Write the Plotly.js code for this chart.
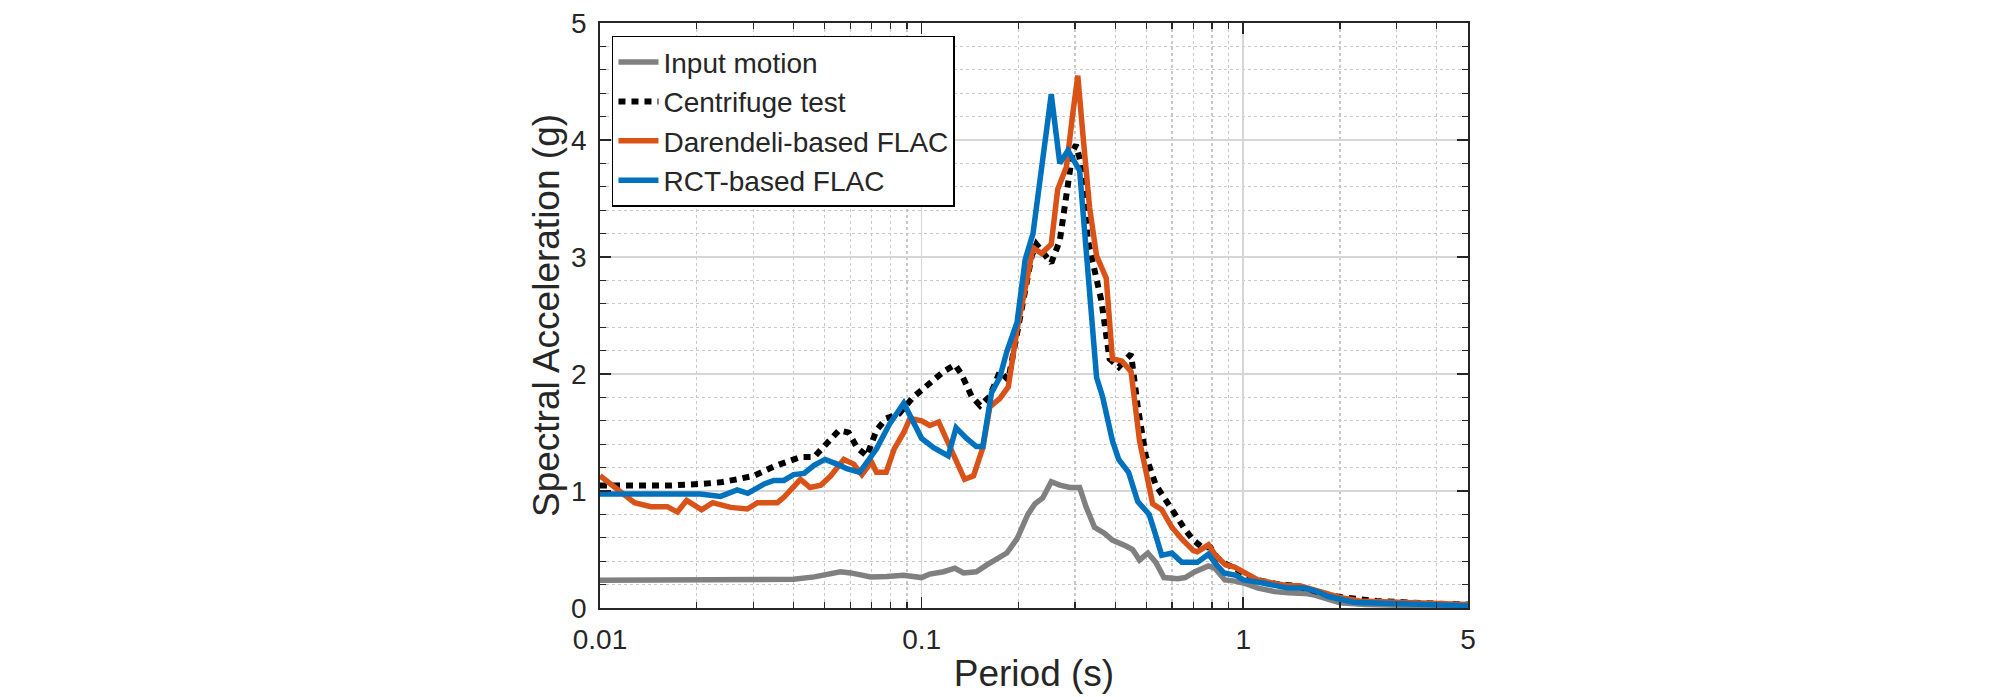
<!DOCTYPE html>
<html>
<head>
<meta charset="utf-8">
<script src="https://cdn.plot.ly/plotly-3.0.1.min.js"></script>
<style>html,body{margin:0;padding:0;background:#fff;}#chart{width:2008px;height:697px;}</style>
</head>
<body>
<div id="chart"></div>
<script>
// ---- Data ----
const periodInput = [0.01,0.015,0.02,0.025,0.03,0.035,0.04,0.0464,0.0515,0.0559,0.0602,0.065,0.0695,0.078,0.0878,0.1,0.106,0.117,0.127,0.135,0.148,0.16,0.171,0.184,0.198,0.214,0.225,0.238,0.253,0.269,0.289,0.31,0.325,0.345,0.37,0.392,0.432,0.453,0.476,0.505,0.535,0.567,0.626,0.66,0.708,0.779,0.817,0.877,0.942,1.012,1.113,1.254,1.379,1.553,1.668,1.835,2.0,2.4,3.4,5.0];
const saInput     = [0.237,0.237,0.238,0.238,0.239,0.240,0.245,0.266,0.29,0.31,0.30,0.285,0.266,0.27,0.28,0.26,0.29,0.31,0.34,0.30,0.31,0.37,0.42,0.47,0.59,0.80,0.89,0.94,1.08,1.05,1.03,1.03,0.86,0.69,0.64,0.58,0.53,0.50,0.41,0.47,0.39,0.26,0.25,0.26,0.31,0.36,0.34,0.24,0.23,0.21,0.17,0.14,0.13,0.125,0.11,0.07,0.045,0.03,0.02,0.01];

const periodCentrifuge = [0.01,0.0128,0.0162,0.0205,0.0237,0.0267,0.0301,0.0347,0.039,0.042,0.0463,0.0509,0.0554,0.0593,0.063,0.0676,0.0724,0.0776,0.0851,0.094,0.106,0.117,0.127,0.133,0.143,0.152,0.163,0.175,0.186,0.195,0.21,0.22,0.2275,0.238,0.253,0.269,0.282,0.295,0.302,0.313,0.329,0.345,0.362,0.384,0.41,0.448,0.47,0.498,0.535,0.575,0.626,0.66,0.70,0.745,0.79,0.83,0.88,0.94,1.0,1.1,1.3,1.45,1.6,1.85,2.05,2.6,3.7,5.0];
const saCentrifuge     = [1.046,1.04,1.046,1.06,1.074,1.10,1.13,1.21,1.26,1.29,1.29,1.42,1.52,1.50,1.37,1.30,1.52,1.62,1.66,1.80,1.92,2.02,2.08,2.0,1.81,1.73,1.81,2.02,1.95,2.25,2.66,3.01,3.11,3.04,2.95,3.14,3.49,3.90,3.96,3.80,3.14,2.89,2.63,2.13,2.06,2.17,1.72,1.30,1.05,0.92,0.76,0.67,0.58,0.52,0.52,0.43,0.38,0.34,0.30,0.24,0.20,0.19,0.16,0.11,0.09,0.06,0.04,0.03];

const periodDarendeli = [0.01,0.0111,0.0128,0.0144,0.0162,0.0174,0.0186,0.0207,0.0224,0.0255,0.0287,0.0309,0.0356,0.0373,0.042,0.045,0.0486,0.0522,0.0573,0.0615,0.0652,0.0698,0.0724,0.0776,0.0822,0.088,0.092,0.1,0.106,0.113,0.1225,0.136,0.145,0.155,0.163,0.175,0.186,0.198,0.212,0.222,0.236,0.253,0.265,0.282,0.295,0.306,0.317,0.333,0.35,0.375,0.392,0.42,0.448,0.476,0.5,0.523,0.558,0.6,0.644,0.70,0.72,0.78,0.82,0.88,0.94,1.0,1.11,1.25,1.38,1.5,1.7,1.9,2.0,2.3,3.4,5.0];
const saDarendeli     = [1.13,1.03,0.90,0.866,0.866,0.82,0.92,0.84,0.90,0.86,0.846,0.90,0.90,0.946,1.10,1.03,1.05,1.13,1.27,1.23,1.14,1.25,1.16,1.16,1.36,1.50,1.62,1.60,1.56,1.59,1.37,1.10,1.13,1.37,1.72,1.79,1.89,2.38,2.79,3.08,3.03,3.11,3.58,3.77,4.22,4.55,4.06,3.42,3.01,2.82,2.13,2.11,2.02,1.43,1.15,0.89,0.84,0.69,0.59,0.49,0.48,0.54,0.45,0.37,0.35,0.31,0.24,0.21,0.19,0.19,0.15,0.11,0.09,0.06,0.04,0.03];

const periodRCT = [0.01,0.0205,0.0237,0.0267,0.0288,0.0324,0.0347,0.0373,0.04,0.0431,0.0463,0.0501,0.0546,0.0585,0.0642,0.0724,0.0794,0.088,0.1,0.109,0.121,0.128,0.138,0.148,0.155,0.165,0.175,0.184,0.198,0.21,0.222,0.236,0.253,0.269,0.285,0.31,0.32,0.337,0.35,0.365,0.392,0.41,0.44,0.47,0.51,0.532,0.558,0.6,0.644,0.72,0.78,0.82,0.87,0.95,1.0,1.12,1.25,1.38,1.55,1.7,1.83,2.0,2.2,2.7,3.4,5.0];
const saRCT     = [0.974,0.974,0.954,1.01,0.98,1.06,1.09,1.09,1.14,1.15,1.22,1.27,1.23,1.19,1.16,1.36,1.57,1.75,1.45,1.37,1.30,1.54,1.45,1.38,1.38,1.84,1.97,2.19,2.44,2.98,3.20,3.80,4.39,3.80,3.91,3.74,3.27,2.63,1.97,1.81,1.43,1.27,1.16,0.91,0.80,0.64,0.45,0.47,0.39,0.39,0.46,0.38,0.30,0.28,0.24,0.22,0.19,0.17,0.17,0.14,0.10,0.07,0.05,0.04,0.03,0.02];

const seriesNames = ['Input motion','Centrifuge test','Darendeli-based FLAC','RCT-based FLAC'];

// ---- Ticks ----
const xTickVals  = [0.01, 0.1, 1, 5];
const xTickText  = ['0.01', '0.1', '1', '5'];
const xMinorVals = [0.02,0.03,0.04,0.05,0.06,0.07,0.08,0.09,0.2,0.3,0.4,0.5,0.6,0.7,0.8,0.9,2,3,4];
const yTickVals  = [0, 1, 2, 3, 4, 5];
const yTickText  = ['0', '1', '2', '3', '4', '5'];

const FONT = '"Liberation Sans", Arial, Helvetica, sans-serif';
const INK = '#262626';

const traces = [
  {x: periodInput, y: saInput, name: seriesNames[0], mode: 'lines',
   line: {color: '#808080', width: 5.5}},
  {x: periodCentrifuge, y: saCentrifuge, name: seriesNames[1], mode: 'lines',
   line: {color: '#000000', width: 6, dash: '7px,6px'}},
  {x: periodDarendeli, y: saDarendeli, name: seriesNames[2], mode: 'lines',
   line: {color: '#D95319', width: 5.5}},
  {x: periodRCT, y: saRCT, name: seriesNames[3], mode: 'lines',
   line: {color: '#0072BD', width: 5.5}}
];

const layout = {
  width: 2008, height: 697,
  margin: {l: 600, r: 540, t: 23, b: 89, pad: 0},
  paper_bgcolor: '#ffffff', plot_bgcolor: '#ffffff',
  font: {family: FONT, color: INK},
  showlegend: true,
  legend: {
    x: 0.0138, y: 0.978, xanchor: 'left', yanchor: 'top',
    bgcolor: '#ffffff', bordercolor: '#000000', borderwidth: 1.5,
    font: {family: FONT, size: 28, color: INK},
    itemwidth: 40,
    tracegroupgap: 0
  },
  xaxis: {
    type: 'log', range: [-2, Math.log10(5)], autorange: false,
    tickmode: 'array', tickvals: xTickVals, ticktext: xTickText,
    ticks: 'inside', ticklen: 11, tickwidth: 1.5, tickcolor: INK,
    showline: true, linecolor: INK, linewidth: 1.8, mirror: 'ticks',
    showgrid: true, gridcolor: '#d6d6d6', gridwidth: 1.6,
    zeroline: false,
    minor: {tickmode: 'array', tickvals: xMinorVals, ticks: 'inside', ticklen: 6, tickwidth: 1.3, tickcolor: INK,
            showgrid: true, gridcolor: '#c8c8c8', gridwidth: 1.3, griddash: 'dot'},
    tickfont: {family: FONT, size: 28, color: INK},
    ticklabelstandoff: 6,
    title: {text: 'Period (s)', font: {family: FONT, size: 37, color: INK}, standoff: 6}
  },
  yaxis: {
    range: [0, 5], autorange: false,
    tickmode: 'array', tickvals: yTickVals, ticktext: yTickText,
    ticks: 'inside', ticklen: 11, tickwidth: 1.5, tickcolor: INK,
    showline: true, linecolor: INK, linewidth: 1.8, mirror: 'ticks',
    showgrid: true, gridcolor: '#d6d6d6', gridwidth: 1.6,
    zeroline: false,
    minor: {dtick: 0.2, tick0: 0, ticks: 'inside', ticklen: 6, tickwidth: 1.3, tickcolor: INK,
            showgrid: true, gridcolor: '#c8c8c8', gridwidth: 1.3, griddash: 'dot'},
    tickfont: {family: FONT, size: 28, color: INK},
    ticklabelstandoff: 6,
    title: {text: 'Spectral Acceleration (g)', font: {family: FONT, size: 37, color: INK}, standoff: 0}
  }
};

Plotly.newPlot('chart', traces, layout, {displayModeBar: false, staticPlot: true});
</script>
</body>
</html>
